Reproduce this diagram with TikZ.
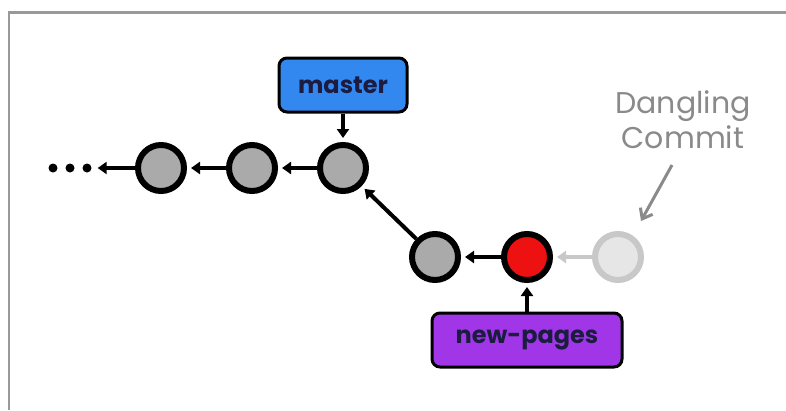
\documentclass[tikz,border=0pt]{standalone}
\usepackage{fontspec}
\setmainfont{Poppins}
\usetikzlibrary{arrows.meta}
\definecolor{cgray}{HTML}{AAAAAA}
\definecolor{cred}{HTML}{EE1111}
\definecolor{cpale}{HTML}{E6E6E6}
\definecolor{cpaleline}{HTML}{C8C8C8}
\definecolor{cblue}{HTML}{3388F0}
\definecolor{cpurple}{HTML}{A036E8}
\definecolor{cnavy}{HTML}{1C1C40}
\definecolor{cframe}{HTML}{999999}
\definecolor{ctext}{HTML}{8A8A8A}
\tikzset{
  commit/.style={circle, minimum size=46pt, inner sep=0pt, line width=6pt, outer sep=3pt, draw=black, fill=cgray},
  redcommit/.style={commit, fill=cred},
  palecommit/.style={commit, draw=cpaleline, fill=cpale},
  dotnode/.style={circle, fill=black, minimum size=9pt, inner sep=0pt},
  branch/.style={draw=black, line width=3pt, rounded corners=8pt, inner sep=0pt, outer sep=1.5pt, text=cnavy, font=\fontsize{24}{28}\selectfont\bfseries},
  arr/.style={line width=4pt, -{Triangle[length=9pt,width=12pt]}, shorten >=4pt},
  palearr/.style={arr, draw=cpaleline, color=cpaleline},
  notearr/.style={line width=3pt, draw=ctext, -{Straight Barb[length=9pt,width=14pt,line width=3pt]}},
}
\begin{document}
\begin{tikzpicture}[x=1pt,y=-1pt]
\useasboundingbox (0,0) rectangle (786,410);
\draw[cframe, line width=2.5pt] (9,410) -- (9,12.5) -- (786,12.5);
% dots
\node[dotnode] (d1) at (53,168) {};
\node[dotnode] (d2) at (70,168) {};
\node[dotnode] (d3) at (87,168) {};
% commits
\node[commit] (m1) at (161,168) {};
\node[commit] (m2) at (252,168) {};
\node[commit] (m3) at (343,168) {};
\node[commit] (g1) at (435,257) {};
\node[redcommit] (r1) at (527,257) {};
\node[palecommit] (p1) at (618,257) {};
% branches
\node[branch, fill=cblue, minimum width=128pt, minimum height=54pt] (master) at (343,85) {master};
\node[branch, fill=cpurple, minimum width=190pt, minimum height=54pt] (np) at (527,340) {new-pages};
% text
\node[text=ctext, font=\fontsize{30}{35}\selectfont, align=center] (dang) at (683,120) {Dangling\\Commit};
\coordinate (ds) at (672,165);
\coordinate (de) at (641,221);
% connectors
\draw[arr, shorten >=6pt] (m1) -- (d3);
\draw[arr] (m2) -- (m1);
\draw[arr] (m3) -- (m2);
\draw[arr] (g1) -- (m3);
\draw[arr] (r1) -- (g1);
\draw[palearr] (p1) -- (r1);
\draw[arr] (master) -- (m3);
\draw[arr] (np) -- (r1);
\draw[notearr] (ds) -- (de);
\end{tikzpicture}
\end{document}
